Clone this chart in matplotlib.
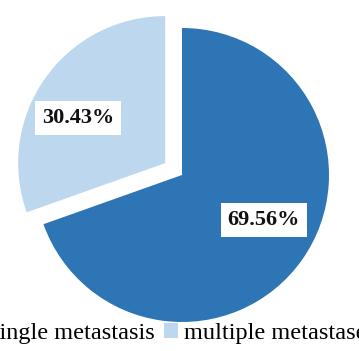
import numpy as np
import matplotlib.pyplot as plt

labels = ["single metastasis", "multiple metastases"]
shares = [69.56, 30.43]
colors = ["#2E75B6", "#BDD7EE"]
explode = [0, 0.14]

plt.rcParams['font.family'] = ['Liberation Serif', 'DejaVu Serif']

fig = plt.figure(figsize=(3.59, 3.51), dpi=100)
ax = fig.add_axes([0, 0, 1, 1])

wedges, texts, autotexts = ax.pie(
    shares, colors=colors, explode=explode, startangle=90, counterclock=False,
    autopct=lambda p: "", radius=1.0)

# label placement: slightly rotated from the wedge middle, as in the original
for w, at, v, dist in zip(wedges, autotexts, shares, [0.63, 0.67]):
    ang = np.deg2rad((w.theta1 + w.theta2) / 2 + 7)
    cx, cy = w.center
    at.set_position((cx + dist * np.cos(ang), cy + dist * np.sin(ang) - 0.01))
    at.set_text(f"{v:.2f}%")
    at.set_fontsize(16)
    at.set_fontweight('bold')
    at.set_color('#111111')
    at.set_bbox(dict(facecolor='white', edgecolor='none', pad=5))

ax.set_aspect('equal')
ax.set_xlim(-1.238, 1.204)
ax.set_ylim(-1.197, 1.190)
ax.axis('off')

fig.legend(wedges, labels, loc='center', bbox_to_anchor=(0.482, 0.05), ncol=2,
           frameon=False, fontsize=17.5, handlelength=0.58, handleheight=0.58,
           handletextpad=0.25, columnspacing=0.35)

fig.savefig('out.png', dpi=100)
